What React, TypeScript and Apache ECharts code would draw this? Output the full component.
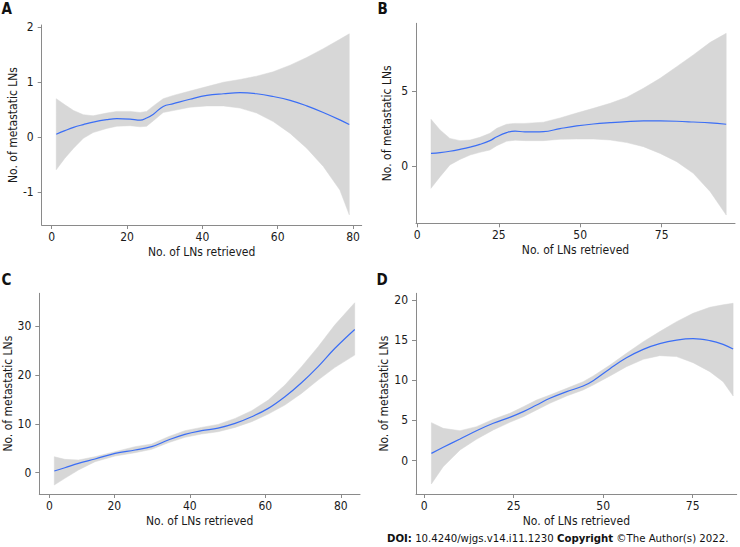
import React, { useEffect, useRef } from "react";
import * as echarts from "echarts";

const FONT = "'DejaVu Sans Condensed', 'DejaVu Sans', sans-serif";
const TEXT = "#1a1a1a";
const AXIS = "#8a8a8a";
const LINE = "#3b6ef5";
const BAND = "#d7d7d7";

const X_TITLE = "No. of LNs retrieved";
const Y_TITLE = "No. of metastatic LNs";

// Panel A
const aX = [1.2, 3.5, 5.8, 8.4, 11, 14.6, 17.3, 20.8, 23.5, 25.2, 27, 29.6, 32.3, 36.7, 41.2, 45.6, 50, 54.4, 58.8, 63.3, 67.7, 72.1, 76.5, 79];
const aFit = [0.055, 0.12, 0.18, 0.23, 0.275, 0.32, 0.34, 0.33, 0.31, 0.35, 0.42, 0.56, 0.61, 0.69, 0.76, 0.79, 0.81, 0.79, 0.74, 0.67, 0.57, 0.45, 0.315, 0.23];
const aHi = [0.7, 0.59, 0.485, 0.41, 0.39, 0.44, 0.47, 0.47, 0.45, 0.47, 0.57, 0.7, 0.76, 0.84, 0.92, 1.0, 1.05, 1.11, 1.19, 1.31, 1.45, 1.61, 1.78, 1.88];
const aLo = [-0.59, -0.38, -0.2, -0.02, 0.085, 0.16, 0.2, 0.21, 0.19, 0.2, 0.3, 0.45, 0.485, 0.545, 0.57, 0.57, 0.53, 0.44, 0.285, 0.07, -0.2, -0.53, -0.96, -1.41];
const aXTicks = [0, 20, 40, 60, 80];
const aXLabels = ["0", "20", "40", "60", "80"];
const aYTicks = [-1, 0, 1, 2];

// Panel B
const bX = [4.2, 7, 10, 13.1, 16.2, 19.2, 22.3, 24.4, 27.4, 30, 33, 38.7, 43.8, 48.9, 54, 59.2, 64.3, 69.4, 74.5, 79.6, 84.7, 89.9, 94.8];
const bFit = [0.84, 0.89, 0.98, 1.11, 1.26, 1.44, 1.69, 1.95, 2.22, 2.33, 2.27, 2.29, 2.49, 2.67, 2.8, 2.89, 2.96, 3.0, 3.0, 2.98, 2.93, 2.87, 2.78];
const bHi = [3.11, 2.4, 1.84, 1.69, 1.73, 1.91, 2.18, 2.51, 2.78, 2.84, 2.84, 2.92, 3.2, 3.53, 3.84, 4.18, 4.58, 5.18, 5.84, 6.62, 7.4, 8.24, 8.84];
const bLo = [-1.49, -0.71, 0.07, 0.44, 0.73, 0.91, 1.07, 1.35, 1.65, 1.72, 1.69, 1.69, 1.78, 1.8, 1.8, 1.73, 1.56, 1.29, 0.84, 0.29, -0.49, -1.71, -3.27];
const bXTicks = [0, 25, 50, 75];
const bXLabels = ["0", "25", "50", "75"];
const bYTicks = [0, 5];

// Panel C
const cX = [4.1, 6.9, 10.5, 14.9, 20.2, 25.5, 29.9, 34.3, 38.7, 43.1, 47.5, 52, 56.4, 60.8, 65.2, 69.6, 74, 78.4, 83.7];
const cFit = [0.34, 1.0, 1.9, 2.8, 3.95, 4.64, 5.32, 6.68, 7.84, 8.59, 9.13, 10.09, 11.45, 13.16, 15.54, 18.4, 21.7, 25.4, 29.3];
const cHi = [3.27, 2.73, 2.59, 3.27, 4.3, 5.32, 5.86, 7.36, 8.59, 9.27, 9.88, 11.1, 12.68, 14.86, 17.93, 21.68, 25.77, 30.2, 34.77];
const cLo = [-2.52, -1.16, 0.55, 2.25, 3.41, 4.09, 4.77, 6.13, 7.23, 7.91, 8.38, 9.27, 10.43, 12.0, 13.84, 16.22, 18.95, 21.5, 24.06];
const cXTicks = [2.8, 20, 40, 60, 80];
const cXLabels = ["0", "20", "40", "60", "80"];
const cYTicks = [0, 10, 20, 30];

// Panel D
const dX = [2, 5.3, 10, 14.6, 19.3, 23.9, 27.7, 31.4, 35.1, 39.8, 44.4, 47.2, 51.9, 56.5, 61.2, 65.8, 70.5, 75.1, 79.8, 83.5, 86.3];
const dFit = [0.91, 1.66, 2.7, 3.73, 4.65, 5.39, 6.1, 6.93, 7.76, 8.59, 9.29, 9.96, 11.45, 12.8, 13.85, 14.56, 15.0, 15.18, 14.94, 14.48, 13.9];
const dHi = [4.73, 4.02, 3.73, 4.23, 5.15, 5.89, 6.72, 7.55, 8.17, 9.0, 9.83, 10.54, 11.9, 13.36, 14.81, 16.06, 17.3, 18.34, 19.09, 19.4, 19.59];
const dLo = [-2.9, -0.75, 1.33, 2.66, 3.82, 4.77, 5.48, 6.31, 7.14, 8.05, 8.8, 9.42, 10.54, 11.7, 12.61, 13.07, 12.95, 12.2, 11.08, 9.83, 8.05];
const dXTicks = [0, 25, 50, 75];
const dXLabels = ["0", "25", "50", "75"];
const dYTicks = [0, 5, 10, 15, 20];

type Panel = {
  letter: string;
  x: number[];
  fit: number[];
  lo: number[];
  hi: number[];
  xTicks: number[];
  xLabels: string[];
  yTicks: number[];
  xRange: [number, number];
  yRange: [number, number];
  grid: { left: number; top: number; width: number; height: number };
  letterPos: [number, number];
};

const panels: Panel[] = [
  {
    letter: "A", x: aX, fit: aFit, lo: aLo, hi: aHi, xTicks: aXTicks, xLabels: aXLabels, yTicks: aYTicks,
    xRange: [-2.66, 82.3], yRange: [-1.595, 2.04],
    grid: { left: 41.7, top: 25, width: 320, height: 200 }, letterPos: [1.5, 9.5],
  },
  {
    letter: "B", x: bX, fit: bFit, lo: bLo, hi: bHi, xTicks: bXTicks, xLabels: bXLabels, yTicks: bYTicks,
    xRange: [-0.4, 97.5], yRange: [-3.82, 9.51],
    grid: { left: 416, top: 23.3, width: 319, height: 200 }, letterPos: [377.5, 9.5],
  },
  {
    letter: "C", x: cX, fit: cFit, lo: cLo, hi: cHi, xTicks: cXTicks, xLabels: cXLabels, yTicks: cYTicks,
    xRange: [0.13, 85.1], yRange: [-4.36, 36.7],
    grid: { left: 39.3, top: 293.3, width: 320.7, height: 200.7 }, letterPos: [1.5, 280.5],
  },
  {
    letter: "D", x: dX, fit: dFit, lo: dLo, hi: dHi, xTicks: dXTicks, xLabels: dXLabels, yTicks: dYTicks,
    xRange: [-2.3, 87.3], yRange: [-4.15, 20.83],
    grid: { left: 416, top: 293.3, width: 320.7, height: 200.7 }, letterPos: [376.5, 280.5],
  },
];

function labelFor(ticks: number[], labels: string[]) {
  return (v: number) => {
    let best = 0;
    for (let i = 1; i < ticks.length; i++) {
      if (Math.abs(ticks[i] - v) < Math.abs(ticks[best] - v)) best = i;
    }
    return labels[best];
  };
}

function buildOption() {
  const textStyle = { color: TEXT, fontSize: 12, fontFamily: FONT };
  const grid = panels.map((p) => ({ ...p.grid, containLabel: false, outerBoundsMode: "none" }));
  const xAxis = panels.map((p, i) => ({
    type: "value",
    gridIndex: i,
    min: p.xRange[0],
    max: p.xRange[1],
    axisLine: { show: true, onZero: false, lineStyle: { color: AXIS, width: 1 } },
    axisTick: { show: true, length: 4, customValues: p.xTicks, lineStyle: { color: AXIS, width: 1 } },
    axisLabel: { customValues: p.xTicks, formatter: labelFor(p.xTicks, p.xLabels), margin: 6, ...textStyle },
    splitLine: { show: false },
    name: X_TITLE,
    nameLocation: "middle",
    nameGap: 21,
    nameTextStyle: textStyle,
  }));
  const yAxis = panels.map((p, i) => ({
    type: "value",
    gridIndex: i,
    min: p.yRange[0],
    max: p.yRange[1],
    axisLine: { show: true, onZero: false, lineStyle: { color: AXIS, width: 1 } },
    axisTick: { show: true, length: 4, customValues: p.yTicks, lineStyle: { color: AXIS, width: 1 } },
    axisLabel: { customValues: p.yTicks, formatter: (v: number) => String(v), margin: 8, ...textStyle },
    splitLine: { show: false },
    name: Y_TITLE,
    nameLocation: "middle",
    nameGap: 23,
    nameTextStyle: textStyle,
  }));
  const series: any[] = [];
  panels.forEach((p, i) => {
    series.push({
      type: "custom",
      xAxisIndex: i,
      yAxisIndex: i,
      silent: true,
      z: 1,
      data: p.x.map((x, k) => [x, p.lo[k], p.hi[k]]),
      encode: { x: 0, y: [1, 2] },
      renderItem: (params: any, api: any) => {
        if (params.dataIndex !== 0) return null;
        const upper = p.x.map((x, k) => api.coord([x, p.hi[k]]));
        const lower = p.x.map((x, k) => api.coord([x, p.lo[k]])).reverse();
        return {
          type: "polygon",
          shape: { points: [...upper, ...lower] },
          style: { fill: BAND, stroke: BAND, lineWidth: 0.5 },
        };
      },
    });
    series.push({
      type: "line",
      xAxisIndex: i,
      yAxisIndex: i,
      data: p.x.map((x, k) => [x, p.fit[k]]),
      smooth: 0.4,
      symbol: "none",
      showSymbol: false,
      silent: true,
      z: 3,
      lineStyle: { color: LINE, width: 1.2 },
    });
  });
  const graphic: any[] = panels.map((p) => ({
    type: "text",
    left: p.letterPos[0],
    top: p.letterPos[1] - 8,
    style: { text: p.letter, fill: "#111", font: `bold 15px ${FONT}` },
  }));
  graphic.push({
    type: "text",
    left: 387,
    top: 533,
    style: {
      text: "{b|DOI:} 10.4240/wjgs.v14.i11.1230 {b|Copyright} ©The Author(s) 2022.",
      fill: "#111",
      fontSize: 11.3,
      fontFamily: FONT,
      rich: {
        b: { fontWeight: "bold", fontSize: 11.3, fontFamily: FONT, fill: "#111" },
      },
    },
  });
  return {
    animation: false,
    backgroundColor: "#ffffff",
    grid,
    xAxis,
    yAxis,
    series,
    graphic,
  };
}

export default function App() {
  const ref = useRef<HTMLDivElement>(null);
  useEffect(() => {
    if (!ref.current) return;
    const chart = echarts.init(ref.current, undefined, { renderer: "svg" });
    chart.setOption(buildOption() as any);
    return () => chart.dispose();
  }, []);
  return (
    <div
      ref={ref}
      style={{ position: "absolute", left: 0, top: 0, width: 740, height: 547 }}
    />
  );
}
